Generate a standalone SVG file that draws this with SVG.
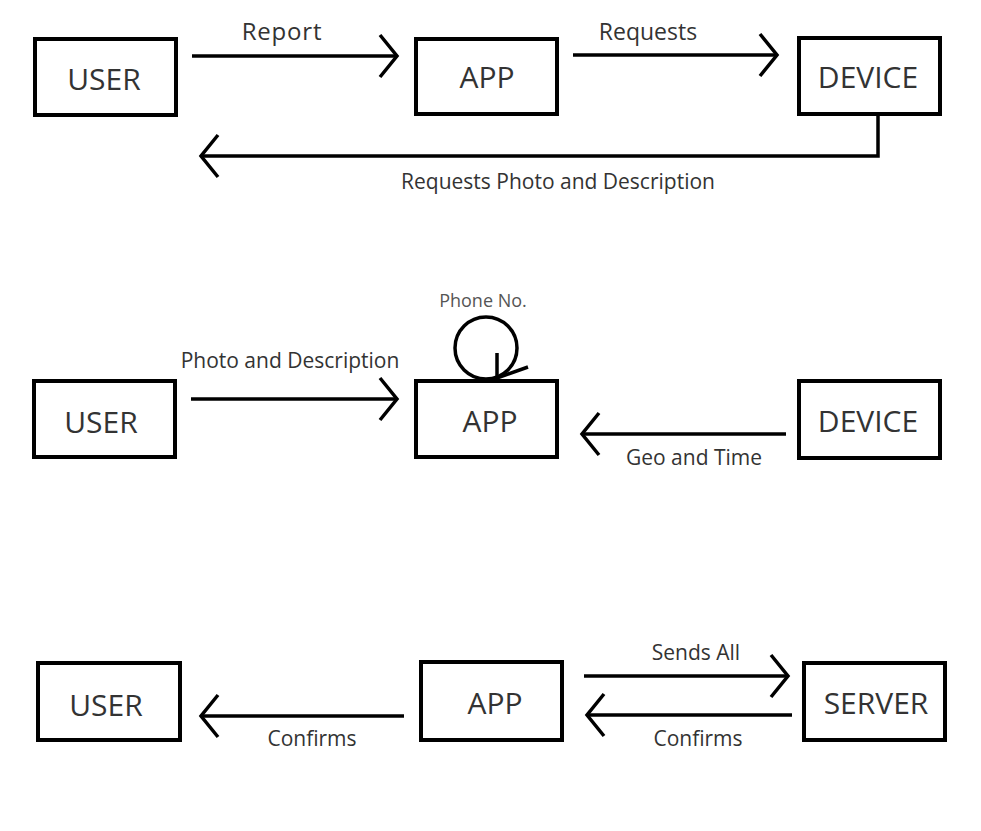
<svg xmlns="http://www.w3.org/2000/svg" width="981" height="831" viewBox="0 0 981 831">
<defs>
<style>
.box{fill:#fff;stroke:#000;stroke-width:4}
.nt{font-family:"Open Sans",sans-serif;font-size:30px;fill:#333;text-anchor:middle;dominant-baseline:central}
.lb{font-family:"Open Sans",sans-serif;font-size:21px;fill:#333;text-anchor:middle;dominant-baseline:central}
.sm{font-family:"Open Sans",sans-serif;font-size:18px;fill:#555;text-anchor:middle;dominant-baseline:central}
.ln{fill:none;stroke:#000;stroke-width:3.5}
</style>
<marker id="ah" markerUnits="userSpaceOnUse" markerWidth="40" markerHeight="50" viewBox="-22 -25 26 50" refX="0" refY="0" orient="auto">
<path d="M-17,-21 L0,0 L-17,21" fill="none" stroke="#000" stroke-width="3.5"/>
</marker>
</defs>
<rect width="981" height="831" fill="#fff"/>
<g id="user1"><rect class="box" x="35" y="39" width="141" height="76"/><text class="nt" x="104" y="78">USER</text></g>
<g id="app1"><rect class="box" x="416" y="39" width="141" height="75"/><text class="nt" x="487" y="76">APP</text></g>
<g id="device1"><rect class="box" x="799" y="38" width="141" height="76"/><text class="nt" x="868" y="76">DEVICE</text></g>
<g id="user2"><rect class="box" x="34" y="381" width="141" height="76"/><text class="nt" x="101" y="421">USER</text></g>
<g id="app2"><rect class="box" x="416" y="381" width="141" height="76"/><text class="nt" x="490" y="420">APP</text></g>
<g id="device2"><rect class="box" x="799" y="381" width="141" height="77"/><text class="nt" x="868" y="420">DEVICE</text></g>
<g id="user3"><rect class="box" x="38" y="663" width="142" height="77"/><text class="nt" x="106" y="704">USER</text></g>
<g id="app3"><rect class="box" x="421" y="662" width="141" height="78"/><text class="nt" x="495" y="702">APP</text></g>
<g id="server3"><rect class="box" x="804" y="663" width="141" height="77"/><text class="nt" x="876" y="702">SERVER</text></g>
<g id="connectors">
<path class="ln" d="M192,56 L397,56" marker-end="url(#ah)"/>
<text class="lb" x="282" y="30" style="font-size:24px;letter-spacing:0.8px">Report</text>
<path class="ln" d="M573,55 L777,55" marker-end="url(#ah)"/>
<text class="lb" x="648" y="31" style="font-size:23px">Requests</text>
<path class="ln" d="M878,115 L878,156 L201,156" marker-end="url(#ah)"/>
<text class="lb" x="558" y="181">Requests Photo and Description</text>
<path class="ln" d="M191,399 L397,399" marker-end="url(#ah)"/>
<text class="lb" x="290" y="360">Photo and Description</text>
<path class="ln" d="M786,434 L582,434" marker-end="url(#ah)"/>
<text class="lb" x="694" y="457">Geo and Time</text>
<circle class="ln" cx="486" cy="348" r="31"/>
<path class="ln" d="M497,353 L497,378 L528,367"/>
<text class="sm" x="483" y="300">Phone No.</text>
<path class="ln" d="M404,716 L201,716" marker-end="url(#ah)"/>
<text class="lb" x="312" y="738">Confirms</text>
<path class="ln" d="M584,676 L788,676" marker-end="url(#ah)"/>
<text class="lb" x="696" y="652">Sends All</text>
<path class="ln" d="M792,715 L587,715" marker-end="url(#ah)"/>
<text class="lb" x="698" y="738">Confirms</text>
</g>
</svg>
